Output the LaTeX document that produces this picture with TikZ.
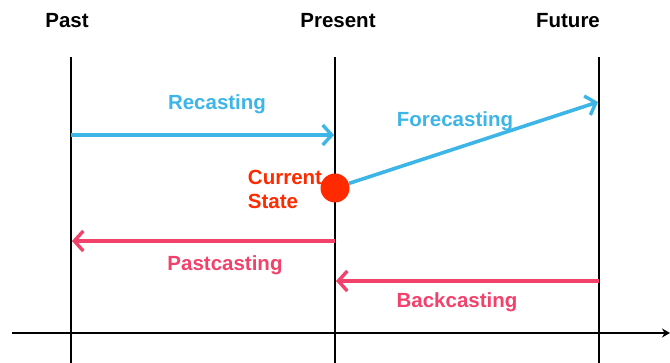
\documentclass[tikz,border=0pt]{standalone}
\usepackage{fontspec}
\setmainfont{Liberation Sans}
\usetikzlibrary{arrows.meta}
\definecolor{cblue}{HTML}{3DB5E6}
\definecolor{cpink}{HTML}{F2426B}
\definecolor{cred}{HTML}{FF2A00}
\begin{document}
\begin{tikzpicture}[x=1pt,y=-1pt,
  lbl/.style={font=\fontsize{20.5}{23}\selectfont\bfseries, inner sep=0pt},
  timeline/.style={line width=2.6pt, black},
  barrow/.style={line width=3.6pt, cblue, -{Straight Barb[length=9pt,width=20pt,line width=3.4pt]}},
  parrow/.style={line width=3.6pt, cpink, -{Straight Barb[length=9pt,width=20pt,line width=3.4pt]}}]
\useasboundingbox (0,0) rectangle (670,363);
% vertical lines
\coordinate (pT) at (71,57);  \coordinate (pB) at (71,363);
\coordinate (nT) at (335,57); \coordinate (nB) at (335,363);
\coordinate (fT) at (599,57); \coordinate (fB) at (599,363);
\draw[timeline] (pT) -- (pB);
\draw[timeline] (nT) -- (nB);
\draw[timeline] (fT) -- (fB);
% axis
\coordinate (aL) at (12,333); \coordinate (aR) at (670,333);
\draw[timeline, -{Stealth[length=8pt,width=9pt]}] (aL) -- (aR);
% headers
\node[lbl] (past) at (67,21) {Past};
\node[lbl] (present) at (338,21) {Present};
\node[lbl] (future) at (568,21) {Future};
% recasting
\coordinate (r1) at (71,135); \coordinate (r2) at (334,135);
\draw[barrow] (r1) -- (r2);
\node[lbl, text=cblue] (rec) at (217,104.5) {Recasting};
% current state dot
\node[circle, fill=cred, minimum size=29pt, inner sep=0pt] (dot) at (335,188) {};
\node[lbl, text=cred, align=left, font=\fontsize{20.5}{24}\selectfont\bfseries] (cs) at (285,189.5) {Current\\State};
% forecasting
\coordinate (f2) at (598,102);
\draw[barrow] (dot) -- (f2);
\node[lbl, text=cblue] (fore) at (455,121.5) {Forecasting};
% pastcasting
\coordinate (pc1) at (335,241); \coordinate (pc2) at (72,241);
\draw[parrow] (pc1) -- (pc2);
\node[lbl, text=cpink] (pastc) at (225,265.5) {Pastcasting};
% backcasting
\coordinate (bc1) at (599,281); \coordinate (bc2) at (336,281);
\draw[parrow] (bc1) -- (bc2);
\node[lbl, text=cpink] (backc) at (457,302.5) {Backcasting};
\end{tikzpicture}
\end{document}
